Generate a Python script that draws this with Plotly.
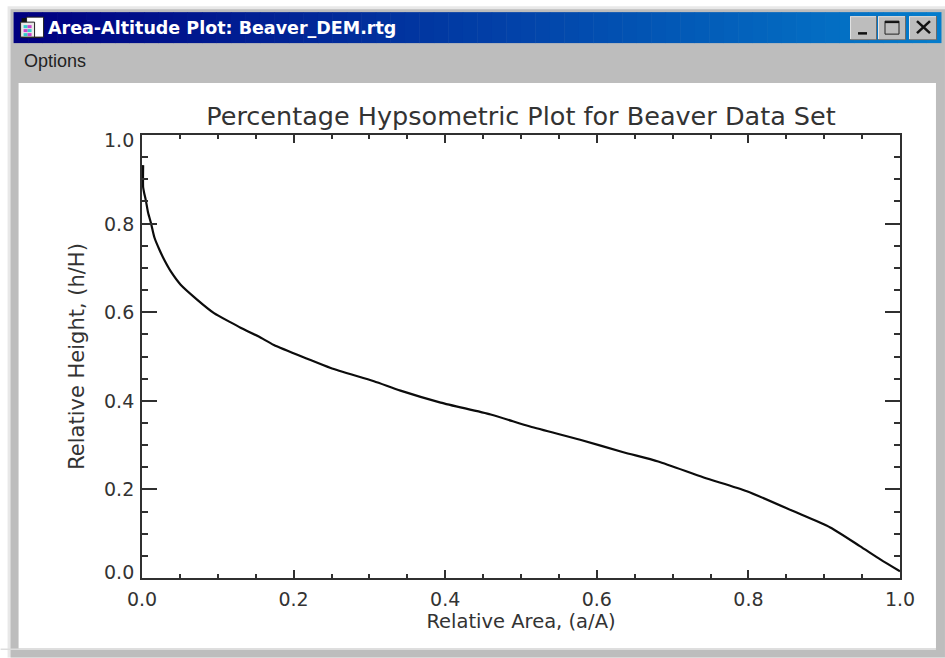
import plotly.graph_objects as go

# Curve values
relative_area = [0.0015, 0.0015, 0.003, 0.005, 0.008, 0.012, 0.0165, 0.023, 0.030, 0.038, 0.051, 0.073, 0.095,
                 0.117, 0.130, 0.154, 0.174, 0.218, 0.249, 0.306, 0.341, 0.394, 0.460, 0.512, 0.578, 0.635,
                 0.681, 0.741, 0.798, 0.859, 0.908, 0.947, 0.974, 1.0]
relative_height = [0.932, 0.882, 0.868, 0.853, 0.825, 0.80, 0.768, 0.741, 0.716, 0.692, 0.662, 0.628, 0.598,
                   0.577, 0.565, 0.545, 0.526, 0.495, 0.474, 0.444, 0.423, 0.396, 0.369, 0.342, 0.312, 0.284,
                   0.263, 0.227, 0.196, 0.151, 0.114, 0.072, 0.042, 0.015]

WINDOW_TITLE = "Area-Altitude Plot: Beaver_DEM.rtg"
MENU_LABEL = "Options"
PLOT_TITLE = "Percentage Hypsometric Plot for Beaver Data Set"
X_TITLE = "Relative Area, (a/A)"
Y_TITLE = "Relative Height, (h/H)"
TICK_VALUES = [0.0, 0.2, 0.4, 0.6, 0.8, 1.0]
TICK_LABELS = ["0.0", "0.2", "0.4", "0.6", "0.8", "1.0"]
Y_LABEL_SHIFT = [6, 0, 0, 0, 0, -5]

W, H = 945, 658
L, R, T, B = 141.5, 900, 135, 578.5
FONT = "DejaVu Sans"
TEXT = "#333333"

def px(x):
    return (x - L) / (R - L)

def py(y):
    return (B - y) / (B - T)

shapes = []

def rect(x0, y0, x1, y1, fill, line=None):
    shapes.append(dict(type="rect", xref="paper", yref="paper", layer="below",
                       x0=px(x0), x1=px(x1), y0=py(y0), y1=py(y1), fillcolor=fill,
                       line=dict(width=1 if line else 0, color=line or fill)))

def seg(x0, y0, x1, y1, color, width=2):
    shapes.append(dict(type="line", xref="paper", yref="paper", layer="below",
                       x0=px(x0), x1=px(x1), y0=py(y0), y1=py(y1), line=dict(color=color, width=width)))

# window chrome
rect(0, 0, W, H, "#ffffff")
rect(7, 6, 945, 658, "#e8e8e8")
rect(10, 9, 945, 658, "#bdbdbd")
steps = 64
for i in range(steps):
    t = i / (steps - 1)
    c = (int(t * 4), int(t * 124), int(128 + t * 76))
    x0 = 13 + 928 * i / steps
    rect(x0, 12, x0 + 928 / steps + 0.5, 43, f"rgb({c[0]},{c[1]},{c[2]})")
rect(18, 83, 936, 649, "#ffffff")
rect(0, 649, 936, 650.5, "#dddddd")

# window icon
rect(21, 18, 40, 38, "#111111")
rect(26, 17, 43, 37, "#ffffff", "#222222")
rect(20, 22, 34, 37, "#e8e8e8", "#222222")
for cx, cy, col in [(23, 25, "#33cccc"), (27, 25, "#cc44cc"), (23, 29, "#cc44cc"),
                    (27, 29, "#33cccc"), (23, 33, "#33cccc"), (27, 33, "#cc44cc")]:
    rect(cx, cy, cx + 4, cy + 3, col)

# window buttons
for bx0, bx1 in [(850, 877), (878, 906), (909, 937)]:
    rect(bx0, 16, bx1, 40, "#6a6a6a")
    rect(bx0, 16, bx1 - 1, 39, "#e6e6e6")
    rect(bx0 + 1, 17, bx1 - 1, 39, "#bdbdbd")
rect(858, 32, 867, 34.5, "#111111")
rect(885, 21, 899, 34, "rgba(0,0,0,0)", "#222222")
seg(885, 22, 899, 22, "#111111", 2)
seg(917, 21, 930, 33, "#111111", 2.5)
seg(930, 21, 917, 33, "#111111", 2.5)

fig = go.Figure()
fig.add_trace(go.Scatter(x=relative_area, y=relative_height, mode="lines",
                         line=dict(color="#0c0c0c", width=2.2, shape="spline", smoothing=0.6),
                         hoverinfo="skip", showlegend=False))

axis_common = dict(
    range=[0, 1], tickmode="array", tickvals=TICK_VALUES, ticktext=TICK_LABELS,
    showgrid=False, zeroline=False, showline=True, linecolor="#303030", linewidth=2,
    mirror="ticks", ticks="inside", tickcolor="#303030", tickwidth=2,
)
tick_font = dict(family=FONT, size=19, color=TEXT)

annotations = [
    dict(text=f"<b>{WINDOW_TITLE}</b>", xref="paper", yref="paper", x=px(45), y=py(28),
         xanchor="left", yanchor="middle", showarrow=False,
         font=dict(family=FONT, size=17.5, color="#ffffff")),
    dict(text=MENU_LABEL, xref="paper", yref="paper", x=px(21), y=py(61),
         xanchor="left", yanchor="middle", showarrow=False,
         font=dict(family="Liberation Sans Narrow, Liberation Sans", size=18, color="#222222")),
]
for value, label, shift in zip(TICK_VALUES, TICK_LABELS, Y_LABEL_SHIFT):
    annotations.append(dict(text=label, xref="paper", yref="y", x=px(135), y=value, yshift=shift,
                            xanchor="right", yanchor="middle", showarrow=False, font=tick_font))

fig.update_layout(
    width=W, height=H, autosize=False, showlegend=False,
    margin=dict(l=L, r=W - R, t=T, b=H - B, pad=0),
    paper_bgcolor="#ffffff", plot_bgcolor="rgba(0,0,0,0)",
    shapes=shapes, annotations=annotations,
    xaxis=dict(**axis_common, ticklen=8, tickfont=tick_font, ticklabelstandoff=3,
               minor=dict(dtick=0.05, tick0=0, ticks="inside", ticklen=4, tickwidth=2, tickcolor="#303030"),
               title=dict(text=X_TITLE, standoff=0, font=dict(family=FONT, size=19.5, color=TEXT))),
    yaxis=dict(**axis_common, ticklen=15, showticklabels=False,
               minor=dict(dtick=0.05, tick0=0, ticks="inside", ticklen=6, tickwidth=2, tickcolor="#303030"),
               title=dict(text=Y_TITLE, standoff=50, font=dict(family=FONT, size=21, color=TEXT))),
    title=dict(text=PLOT_TITLE, xref="paper", yref="container", x=0.5, xanchor="center",
               y=1 - 116 / H, yanchor="middle",
               font=dict(family=FONT, size=25.5, color=TEXT)),
)

fig.write_html("out.html", config=dict(displayModeBar=False),
               post_script="document.body.style.margin='0';document.body.style.overflow='hidden';")
